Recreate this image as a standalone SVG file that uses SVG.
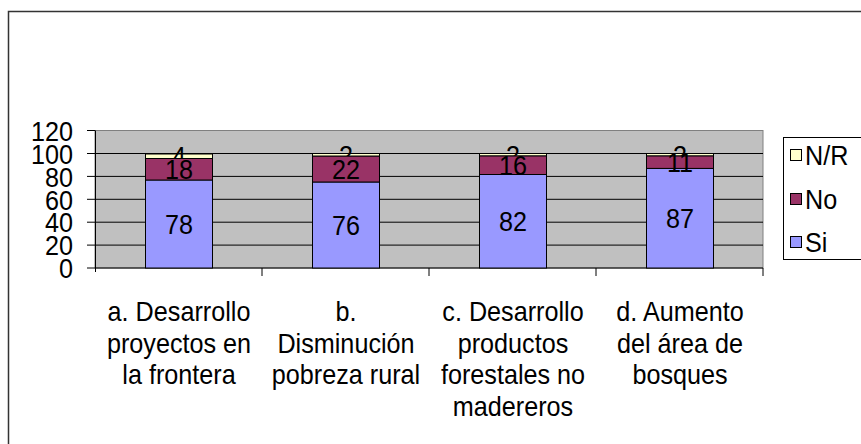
<svg xmlns="http://www.w3.org/2000/svg" width="861" height="444" viewBox="0 0 861 444">
<style>
text{font-family:"Liberation Sans",Arial,sans-serif;font-size:28px;fill:#000}
.m{text-anchor:middle}
.e{text-anchor:end}
.si{fill:#9999FF;stroke:#000;stroke-width:1}
.no{fill:#993366;stroke:#000;stroke-width:1}
.nr{fill:#FFFFCC;stroke:#000;stroke-width:1}
.ax{stroke:#000;stroke-width:1;fill:none}
</style>
<defs>
<clipPath id="ca"><rect x="100" y="100" width="150" height="58.5"/></clipPath>
<clipPath id="cb"><rect x="270" y="100" width="150" height="56"/></clipPath>
<clipPath id="cc"><rect x="440" y="100" width="150" height="55.8"/></clipPath>
<clipPath id="cd"><rect x="600" y="100" width="150" height="55.8"/></clipPath>
</defs>
<rect x="8.5" y="11.5" width="900" height="500" fill="#fff" stroke="#333" stroke-width="1.5"/>
<g id="plot">
<rect x="95" y="130.5" width="668" height="137.5" fill="#C0C0C0" stroke="#808080" stroke-width="1"/>
<path class="ax" d="M95 245.1H763M95 222.2H763M95 199.3H763M95 176.4H763M95 153.5H763"/>
</g>
<g id="axes">
<path class="ax" d="M95.5 130.5V272M95 268H763M87 268H95M87 245.1H95M87 222.2H95M87 199.3H95M87 176.4H95M87 153.5H95M87 130.5H95M262 268V276M429 268V276M596 268V276M763 268V276"/>
<text class="e" transform="translate(73,278) scale(0.9,1)">0</text>
<text class="e" transform="translate(73,255) scale(0.9,1)">20</text>
<text class="e" transform="translate(73,232) scale(0.9,1)">40</text>
<text class="e" transform="translate(73,209.5) scale(0.9,1)">60</text>
<text class="e" transform="translate(73,186.5) scale(0.9,1)">80</text>
<text class="e" transform="translate(73,163.5) scale(0.9,1)">100</text>
<text class="e" transform="translate(73,140.5) scale(0.9,1)">120</text>
</g>
<g id="bar-a">
<rect class="si" x="145.5" y="180" width="67" height="88"/>
<rect class="no" x="145.5" y="158.5" width="67" height="21.5"/>
<rect class="nr" x="145.5" y="154" width="67" height="4.5"/>
<text class="m" transform="translate(179,234) scale(0.9,1)">78</text>
<text class="m" transform="translate(179,179) scale(0.9,1)">18</text>
<g clip-path="url(#ca)"><text class="m" transform="translate(179,166) scale(0.9,1)">4</text></g>
</g>
<g id="bar-b">
<rect class="si" x="312.5" y="182" width="67" height="86"/>
<rect class="no" x="312.5" y="156" width="67" height="26"/>
<rect class="nr" x="312.5" y="153.5" width="67" height="2.5"/>
<text class="m" transform="translate(346,235) scale(0.9,1)">76</text>
<text class="m" transform="translate(346,179) scale(0.9,1)">22</text>
<g clip-path="url(#cb)"><text class="m" transform="translate(346,164.5) scale(0.9,1)">2</text></g>
</g>
<g id="bar-c">
<rect class="si" x="479.5" y="174.5" width="67" height="93.5"/>
<rect class="no" x="479.5" y="155.8" width="67" height="18.7"/>
<rect class="nr" x="479.5" y="153.5" width="67" height="2.3"/>
<text class="m" transform="translate(513,231) scale(0.9,1)">82</text>
<text class="m" transform="translate(513,175) scale(0.9,1)">16</text>
<g clip-path="url(#cc)"><text class="m" transform="translate(513,164.5) scale(0.9,1)">2</text></g>
</g>
<g id="bar-d">
<rect class="si" x="646.5" y="168.4" width="67" height="99.6"/>
<rect class="no" x="646.5" y="155.8" width="67" height="12.6"/>
<rect class="nr" x="646.5" y="153.5" width="67" height="2.3"/>
<text class="m" transform="translate(680,228) scale(0.9,1)">87</text>
<text class="m" transform="translate(680,172) scale(0.9,1)">11</text>
<g clip-path="url(#cd)"><text class="m" transform="translate(680,164.5) scale(0.9,1)">2</text></g>
</g>
<g id="categories">
<text class="m" transform="translate(179,321) scale(0.9,1)">a. Desarrollo</text>
<text class="m" transform="translate(179,352.5) scale(0.9,1)">proyectos en</text>
<text class="m" transform="translate(179,384) scale(0.9,1)">la frontera</text>
<text class="m" transform="translate(346,321) scale(0.9,1)">b.</text>
<text class="m" transform="translate(346,352.5) scale(0.9,1)">Disminución</text>
<text class="m" transform="translate(346,384) scale(0.9,1)">pobreza rural</text>
<text class="m" transform="translate(513,321) scale(0.9,1)">c. Desarrollo</text>
<text class="m" transform="translate(513,352.5) scale(0.9,1)">productos</text>
<text class="m" transform="translate(513,384) scale(0.9,1)">forestales no</text>
<text class="m" transform="translate(513,415.5) scale(0.9,1)">madereros</text>
<text class="m" transform="translate(680,321) scale(0.9,1)">d. Aumento</text>
<text class="m" transform="translate(680,352.5) scale(0.9,1)">del área de</text>
<text class="m" transform="translate(680,384) scale(0.9,1)">bosques</text>
</g>
<g id="legend">
<rect x="783.5" y="137.5" width="100" height="122" fill="#fff" stroke="#000" stroke-width="1"/>
<rect class="nr" x="790.5" y="149.5" width="11" height="11"/>
<text transform="translate(805,165) scale(0.9,1)">N/R</text>
<rect class="no" x="790.5" y="193.5" width="11" height="11"/>
<text transform="translate(805,209) scale(0.9,1)">No</text>
<rect class="si" x="790.5" y="236.5" width="11" height="11"/>
<text transform="translate(805,252) scale(0.9,1)">Si</text>
</g>
</svg>
